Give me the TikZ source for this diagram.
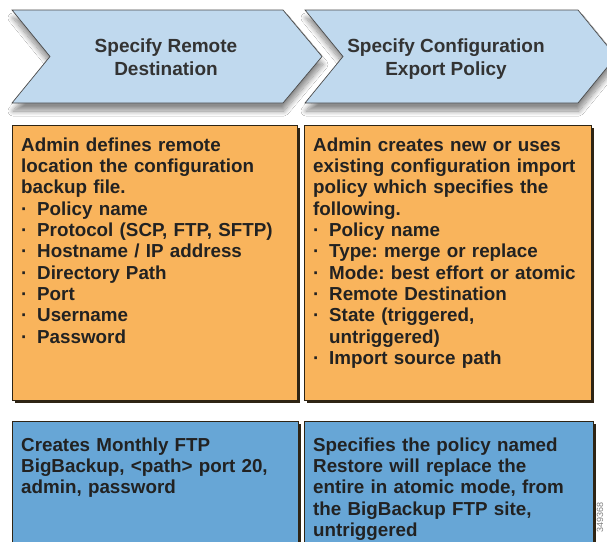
\documentclass[tikz,border=0pt]{standalone}
\usepackage{fontspec}
\setmainfont{Liberation Sans}
\usetikzlibrary{shadows.blur}
\definecolor{chevfill}{HTML}{C0D9EE}
\definecolor{chevline}{HTML}{4A4A4A}
\definecolor{orangefill}{HTML}{F9B45C}
\definecolor{bluefill}{HTML}{67A6D6}
\definecolor{edgecol}{HTML}{2E2414}
\definecolor{txtcol}{HTML}{222222}
\definecolor{chevtxt}{HTML}{333333}
\newcommand{\bul}{\makebox[16pt][l]{·}}
\frenchspacing
\begin{document}
\begin{tikzpicture}[x=1pt,y=-1pt,
  chev/.style={fill=chevfill, draw=chevline, line width=0.7pt,
    blur shadow={shadow xshift=1pt, shadow yshift=-8pt, shadow blur radius=5pt, shadow blur steps=12, shadow opacity=45}},
  chevtext/.style={font=\bfseries\fontsize{19}{23}\selectfont, text=chevtxt, align=center, inner sep=0pt, anchor=north},
  boxshadow/.style={fill=edgecol},
  obox/.style={fill=orangefill, draw=edgecol, line width=0.8pt},
  bbox/.style={fill=bluefill, draw=edgecol, line width=0.8pt},
  boxtext/.style={font=\bfseries\fontsize{18.8}{21.3}\selectfont, text=txtcol, align=left, text width=285pt, inner sep=0pt, anchor=north west},
  numlabel/.style={rotate=90, font=\fontsize{9}{10}\selectfont, text=gray, inner sep=0pt}
]
\useasboundingbox (0,0) rectangle (607,541);
\clip (0,0) rectangle (607,541);
\fill[white] (0,0) rectangle (607,541);

% chevrons
\path[chev] (12,10) -- (283,10) -- (322,56.5) -- (283,103) -- (12,103) -- (50,56.5) -- cycle;
\path[chev] (305,10) -- (578,10) -- (616,56.5) -- (578,103) -- (305,103) -- (343,56.5) -- cycle;
\node[chevtext] (t1) at (166,39) {Specify Remote\\Destination};
\node[chevtext] (t2) at (446,39) {Specify Configuration\\Export Policy};

% orange boxes
\path[boxshadow] (14.5,127.5) rectangle (299.5,402.5);
\path[obox] (12,125) rectangle (297,400);
\path[boxshadow] (306.5,127.5) rectangle (593.5,402.5);
\path[obox] (304,125) rectangle (591,400);

\node[boxtext] (o1) at (21,137.5) {Admin defines remote\\
location the configuration\\
backup file.\\
\bul Policy name\\
\bul Protocol (SCP, FTP, SFTP)\\
\bul Hostname / IP address\\
\bul Directory Path\\
\bul Port\\
\bul Username\\
\bul Password};

\node[boxtext] (o2) at (313,137.5) {Admin creates new or uses\\
existing configuration import\\
policy which specifies the\\
following.\\
\bul Policy name\\
\bul Type: merge or replace\\
\bul Mode: best effort or atomic\\
\bul Remote Destination\\
\bul State (triggered,\\
\hspace*{16pt}untriggered)\\
\bul Import source path};

% blue boxes
\path[boxshadow] (14.5,423.5) rectangle (300.5,560);
\path[bbox] (12,421) rectangle (298,560);
\path[boxshadow] (306.5,423.5) rectangle (595.5,560);
\path[bbox] (304,421) rectangle (593,560);

\node[boxtext] (b1) at (21,437.5) {Creates Monthly FTP\\
BigBackup, <path> port 20,\\
admin, password};

\node[boxtext] (b2) at (313,437.5) {Specifies the policy named\\
Restore will replace the\\
entire in atomic mode, from\\
the BigBackup FTP site,\\
untriggered};

\node[numlabel] (num) at (600,517) {349368};
\end{tikzpicture}
\end{document}
